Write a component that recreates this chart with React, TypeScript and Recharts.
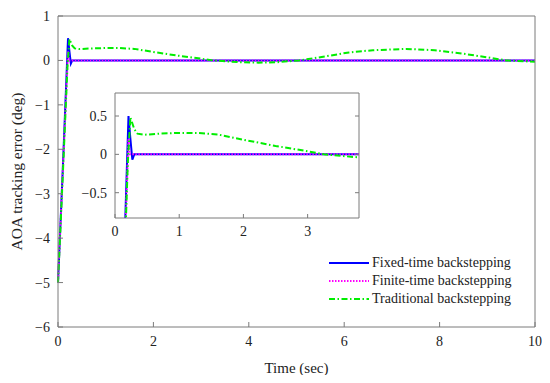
import React from "react";
import {
  LineChart,
  Line,
  XAxis,
  YAxis,
  CartesianGrid,
} from "recharts";

// time (sec) / AOA tracking error (deg)
const fixedTime = [0, 0.1, 0.21, 0.24, 0.27, 0.3, 10];
const fixedErr = [-5, -2.45, 0.5, 0.2, -0.07, 0, 0];

const finiteTime = [0, 0.1, 0.21, 0.23, 10];
const finiteErr = [-5, -2.5, 0.2, 0, 0];

const tradTime = [
  0, 0.1, 0.2, 0.24, 0.3, 0.35, 0.45, 0.7, 1.0, 1.3, 1.6, 2.0, 2.5, 3.0, 3.25,
  3.8, 4.2, 4.6, 5.05, 5.6, 6.1, 6.6, 7.3, 7.9, 8.5, 9.0, 9.4, 10,
];
const tradErr = [
  -5, -2.6, -0.1, 0.48, 0.33, 0.27, 0.255, 0.27, 0.28, 0.278, 0.26, 0.19, 0.11,
  0.04, 0, -0.04, -0.05, -0.04, 0, 0.09, 0.18, 0.23, 0.26, 0.23, 0.15, 0.07, 0,
  -0.03,
];

const mainXTicks = [0, 2, 4, 6, 8, 10];
const mainYTicks = [-6, -5, -4, -3, -2, -1, 0, 1];
const insetXTicks = [0, 1, 2, 3];
const insetYTicks = [-0.5, 0, 0.5];

const toRows = (ts: number[], vs: number[]) => ts.map((t, i) => ({ t, v: vs[i] }));

const series = [
  { name: "Fixed-time backstepping", data: toRows(fixedTime, fixedErr), color: "#0000ff", dash: undefined },
  { name: "Finite-time backstepping", data: toRows(finiteTime, finiteErr), color: "#ff00ff", dash: "1.5 1.5" },
  { name: "Traditional backstepping", data: toRows(tradTime, tradErr), color: "#00ee00", dash: "6 2.5 1.5 2.5" },
];

const font = "'Liberation Serif', 'DejaVu Serif', serif";
const axisGray = "#7a7a7a";
const tickStyle = { fontFamily: font, fontSize: 14, fill: "#222" };
const fmt = (v: number) => String(v).replace("-", "\u2212");
const blank = () => "";

const LegendBox = () => (
  <div style={{ position: "absolute", left: 327, top: 254, fontSize: 14, color: "#222", lineHeight: "18px" }}>
    {series.map((s) => (
      <div key={s.name} style={{ display: "flex", alignItems: "center", height: 18 }}>
        <svg width={45} height={10}>
          <line x1={2} x2={42} y1={5} y2={5} stroke={s.color} strokeWidth={2} strokeDasharray={s.dash} />
        </svg>
        <span>{s.name}</span>
      </div>
    ))}
  </div>
);

const renderLines = () =>
  series.map((s) => (
    <Line
      key={s.name}
      data={s.data}
      dataKey="v"
      name={s.name}
      type="linear"
      stroke={s.color}
      strokeWidth={2}
      strokeDasharray={s.dash}
      dot={false}
      activeDot={false}
      isAnimationActive={false}
    />
  ));

const App = () => {
  return (
    <div style={{ position: "relative", width: 550, height: 383, margin: -8, background: "#fff", fontFamily: font }}>
      <LineChart width={550} height={383} margin={{ top: 0, right: 0, bottom: 0, left: 0 }}>
        <XAxis
          dataKey="t"
          type="number"
          domain={[0, 10]}
          ticks={mainXTicks}
          height={56}
          stroke={axisGray}
          tick={tickStyle}
          tickSize={-5}
          tickMargin={14}
          tickFormatter={fmt}
          label={{ value: "Time (sec)", position: "insideBottom", offset: 10, style: { fontFamily: font, fontSize: 15, fill: "#222" } }}
        />
        <XAxis xAxisId="top" orientation="top" type="number" domain={[0, 10]} ticks={mainXTicks} height={16} stroke={axisGray} tickSize={-5} tickFormatter={blank} />
        <YAxis
          type="number"
          domain={[-6, 1]}
          ticks={mainYTicks}
          width={58}
          stroke={axisGray}
          tick={tickStyle}
          tickSize={-5}
          tickMargin={13}
          tickFormatter={fmt}
          label={{ value: "AOA tracking error (deg)", angle: -90, position: "insideLeft", offset: 16, style: { fontFamily: font, fontSize: 15.5, fill: "#222", textAnchor: "middle" } }}
        />
        <YAxis yAxisId="right" orientation="right" type="number" domain={[-6, 1]} ticks={mainYTicks} width={15} stroke={axisGray} tickSize={-5} tickFormatter={blank} />
        {renderLines()}
      </LineChart>

      <LegendBox />

      <div style={{ position: "absolute", left: 80, top: 88 }}>
        <LineChart width={284} height={155} margin={{ top: 0, right: 0, bottom: 0, left: 0 }}>
          <CartesianGrid fill="#fff" stroke="none" horizontal={false} vertical={false} />
          <XAxis
            dataKey="t"
            type="number"
            domain={[0, 3.8]}
            allowDataOverflow
            ticks={insetXTicks}
            height={25}
            stroke={axisGray}
            tick={tickStyle}
            tickSize={-4}
            tickMargin={12}
            tickFormatter={fmt}
          />
          <XAxis xAxisId="top" orientation="top" type="number" domain={[0, 3.8]} allowDataOverflow ticks={insetXTicks} height={5} stroke={axisGray} tickSize={-4} tickFormatter={blank} />
          <YAxis
            type="number"
            domain={[-0.83, 0.8]}
            allowDataOverflow
            ticks={insetYTicks}
            width={35}
            stroke={axisGray}
            tick={tickStyle}
            tickSize={-4}
            tickMargin={12}
            tickFormatter={fmt}
          />
          <YAxis yAxisId="right" orientation="right" type="number" domain={[-0.83, 0.8]} allowDataOverflow ticks={insetYTicks} width={5} stroke={axisGray} tickSize={-4} tickFormatter={blank} />
          {renderLines()}
        </LineChart>
      </div>
    </div>
  );
};

export default App;
